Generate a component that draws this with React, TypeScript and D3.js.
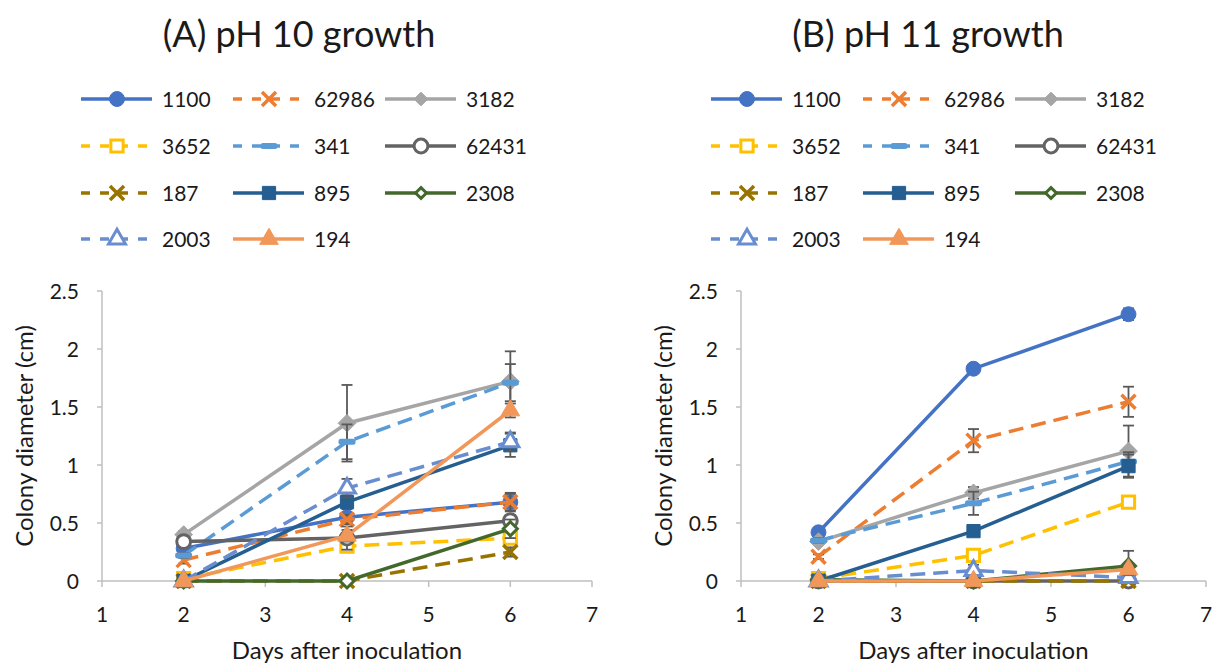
import React from "react";
import * as d3 from "d3";

// sampling days
const days = [2, 4, 6];
const strains = ["1100", "62986", "3182", "3652", "341", "62431", "187", "895", "2308", "2003", "194"];

// colony diameter (cm) on day 2, 4, 6 - one row per strain, same order as strains
const ph10Means = [
  [0.28, 0.55, 0.68],
  [0.18, 0.53, 0.68],
  [0.4, 1.36, 1.72],
  [0.02, 0.3, 0.37],
  [0.22, 1.2, 1.71],
  [0.34, 0.37, 0.52],
  [0, 0, 0.25],
  [0, 0.68, 1.17],
  [0, 0, 0.45],
  [0, 0.8, 1.2],
  [0, 0.39, 1.47],
];
const ph10Errors = [
  [0.02, 0.03, 0.07],
  [0.03, 0.04, 0.08],
  [0.03, 0.33, 0.26],
  [0.01, 0.04, 0.05],
  [0.02, 0.15, 0.16],
  [0.03, 0.1, 0.05],
  [0, 0, 0.04],
  [0, 0.06, 0.1],
  [0, 0, 0.08],
  [0, 0.08, 0.08],
  [0, 0.05, 0.06],
];
const ph11Means = [
  [0.42, 1.83, 2.3],
  [0.21, 1.21, 1.545],
  [0.34, 0.76, 1.12],
  [0.02, 0.22, 0.68],
  [0.35, 0.67, 1.03],
  [0, 0, 0],
  [0, 0, 0],
  [0, 0.43, 0.99],
  [0.01, 0, 0.13],
  [0, 0.09, 0.03],
  [0, 0, 0.1],
];
const ph11Errors = [
  [0.02, 0.03, 0.05],
  [0.02, 0.1, 0.13],
  [0.02, 0.05, 0.22],
  [0.01, 0.04, 0.03],
  [0.02, 0.1, 0.08],
  [0, 0, 0],
  [0, 0, 0],
  [0, 0.03, 0.1],
  [0, 0, 0.13],
  [0, 0.05, 0.02],
  [0, 0, 0.05],
];

const xTicks = [1, 2, 3, 4, 5, 6, 7];
const yTicks = [0, 0.5, 1, 1.5, 2, 2.5];

// series styles
const strainColors = ["#4472C4", "#ED7D31", "#A5A5A5", "#FFC000", "#5B9BD5", "#636363", "#997300", "#255E91", "#43682B", "#698ED0", "#F1975A"];
const strainDashed = [false, true, false, true, true, false, true, false, false, true, false];
const strainMarkers = ["circle", "x", "diamond", "square-open", "dash", "circle-open", "x", "square", "diamond-open", "triangle-open", "triangle"];

const FONT = "Lato, 'Open Sans', sans-serif";
const TEXT = "#1a1a1a";

const symbolTypes: any = {
  circle: d3.symbolCircle,
  x: d3.symbolTimes,
  diamond: d3.symbolDiamond2,
  square: d3.symbolSquare,
  triangle: d3.symbolTriangle,
};
const symbolSizes: any = { circle: 175, x: 130, diamond: 200, square: 175, triangle: 150 };
const openSizes: any = { circle: 150, diamond: 125, square: 150, triangle: 125 };

function Marker({ kind, color, x, y, legend = false }: any) {
  const open = kind.endsWith("-open");
  const base = kind.replace("-open", "");
  if (base === "dash") {
    return <rect x={x - 8.5} y={y - 3} width={17} height={6} rx={2.5} fill={color} />;
  }
  const k = legend && base === "diamond" ? 0.6 : 1;
  const size = (open ? openSizes[base] : symbolSizes[base]) * k;
  const d = d3.symbol(symbolTypes[base], size)() as string;
  const t = `translate(${x},${y})`;
  if (base === "x") {
    return <path d={d} transform={t} fill="none" stroke={color} strokeWidth={3.5} />;
  }
  return (
    <path
      d={d}
      transform={t}
      fill={open ? "#fff" : color}
      stroke={color}
      strokeWidth={open ? 3 : 1}
    />
  );
}

function Panel({ left, right, top, bottom, title, titleX, means, errors, legendCols }: any) {
  const x = d3.scaleLinear().domain([1, 7]).range([left, right]);
  const y = d3.scaleLinear().domain([0, 2.5]).range([bottom, top]);
  const line = d3
    .line<number>()
    .x((_, i) => x(days[i]))
    .y((v) => y(v));
  const legendRows = [99, 146, 193, 239];

  return (
    <g fontFamily={FONT} fill={TEXT}>
      <text x={titleX} y={47} fontSize={36} textAnchor="middle">
        {title}
      </text>

      {/* legend, 3 per row */}
      {strains.map((s, i) => {
        const lx = legendCols[i % 3];
        const ly = legendRows[Math.floor(i / 3)];
        return (
          <g key={s}>
            <line
              x1={lx}
              x2={lx + 71}
              y1={ly}
              y2={ly}
              stroke={strainColors[i]}
              strokeWidth={3.5}
              strokeDasharray={strainDashed[i] ? "9,10" : undefined}
            />
            <Marker kind={strainMarkers[i]} color={strainColors[i]} x={lx + 36} y={ly} legend />
            <text x={lx + 81} y={ly + 7.5} fontSize={21}>
              {s}
            </text>
          </g>
        );
      })}

      {/* axes */}
      <line x1={left} x2={left} y1={top} y2={bottom} stroke="#BFBFBF" strokeWidth={1.5} />
      <line x1={left} x2={right} y1={bottom} y2={bottom} stroke="#BFBFBF" strokeWidth={1.5} />
      {yTicks.map((t) => (
        <g key={t}>
          <line x1={left - 5} x2={left} y1={y(t)} y2={y(t)} stroke="#BFBFBF" strokeWidth={1.5} />
          <text x={left - 23} y={y(t) + 7.5} fontSize={21} textAnchor="end">
            {t}
          </text>
        </g>
      ))}
      {xTicks.map((t) => (
        <g key={t}>
          <line x1={x(t)} x2={x(t)} y1={bottom} y2={bottom + 6} stroke="#BFBFBF" strokeWidth={1.5} />
          <text x={x(t)} y={622} fontSize={21} textAnchor="middle">
            {t}
          </text>
        </g>
      ))}
      <text x={(left + right) / 2} y={659} fontSize={24} textAnchor="middle">
        Days after inoculation
      </text>
      <text
        transform={`translate(${left - 69},${(top + bottom) / 2}) rotate(-90)`}
        fontSize={24}
        textAnchor="middle"
      >
        Colony diameter (cm)
      </text>

      {/* series */}
      {strains.map((s, i) => (
        <g key={s}>
          <path
            d={line(means[i]) as string}
            fill="none"
            stroke={strainColors[i]}
            strokeWidth={3.5}
            strokeDasharray={strainDashed[i] ? "15,8" : undefined}
          />
          {means[i].map((m: number, j: number) =>
            errors[i][j] > 0 ? (
              <g key={j} stroke="#595959" strokeWidth={1.8}>
                <line x1={x(days[j])} x2={x(days[j])} y1={y(m - errors[i][j])} y2={y(m + errors[i][j])} />
                <line x1={x(days[j]) - 5.5} x2={x(days[j]) + 5.5} y1={y(m - errors[i][j])} y2={y(m - errors[i][j])} />
                <line x1={x(days[j]) - 5.5} x2={x(days[j]) + 5.5} y1={y(m + errors[i][j])} y2={y(m + errors[i][j])} />
              </g>
            ) : null
          )}
          {means[i].map((m: number, j: number) => (
            <Marker key={j} kind={strainMarkers[i]} color={strainColors[i]} x={x(days[j])} y={y(m)} />
          ))}
        </g>
      ))}
    </g>
  );
}

export default function App() {
  return (
    <svg
      width={1219}
      height={669}
      style={{ position: "absolute", left: 0, top: 0, background: "#fff" }}
    >
      <Panel
        left={102}
        right={592}
        top={291}
        bottom={581}
        title="(A) pH 10 growth"
        titleX={299}
        means={ph10Means}
        errors={ph10Errors}
        legendCols={[81, 233, 385]}
      />
      <Panel
        left={741}
        right={1206}
        top={291}
        bottom={581}
        title="(B) pH 11 growth"
        titleX={928}
        means={ph11Means}
        errors={ph11Errors}
        legendCols={[711, 863, 1015]}
      />
    </svg>
  );
}
